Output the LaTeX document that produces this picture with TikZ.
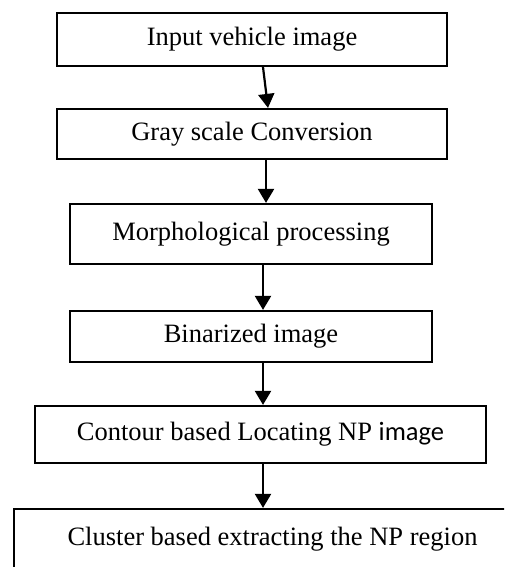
\documentclass[tikz,border=0pt]{standalone}
\usepackage{fontspec}
\setmainfont{Liberation Serif}
\newfontfamily\calib{Carlito}
\usetikzlibrary{arrows.meta}
\begin{document}
\begin{tikzpicture}[x=1pt,y=-1pt,
  stepbox/.style={draw=black,line width=2.2pt,fill=white,inner sep=0pt,font=\fontsize{26.5}{30}\selectfont},
  arr/.style={line width=2.2pt,-{Triangle[width=16pt,length=14pt]}}]
\useasboundingbox (0,0) rectangle (504,567);
\begin{scope}
\clip (0,0) rectangle (504,567);
\node[stepbox,minimum width=390pt,minimum height=53pt] (b1) at (252,39.5) {Input vehicle image};
\node[stepbox,minimum width=390pt,minimum height=50pt] (b2) at (252,134) {Gray scale Conversion};
\node[stepbox,minimum width=362pt,minimum height=60pt] (b3) at (251,234) {Morphological processing};
\node[stepbox,minimum width=362pt,minimum height=51pt] (b4) at (251,336.5) {Binarized image};
\node[stepbox,minimum width=451pt,minimum height=57pt] (b5) at (260.5,434.5) {Contour based Locating NP {\calib image}};
\node[stepbox,minimum width=517pt,minimum height=60pt] (b6) at (272.5,539) {Cluster based extracting the NP region};
\draw[arr] ([xshift=11pt]b1.south) -- ([xshift=16pt]b2.north);
\draw[arr] ([xshift=14pt]b2.south) -- ([xshift=15pt]b3.north);
\draw[arr] ([xshift=12pt]b3.south) -- ([xshift=12pt]b4.north);
\draw[arr] ([xshift=12pt]b4.south) -- ([xshift=2.5pt]b5.north);
\draw[arr] ([xshift=2.5pt]b5.south) -- ([xshift=-9.5pt]b6.north);
\end{scope}
\end{tikzpicture}
\end{document}
